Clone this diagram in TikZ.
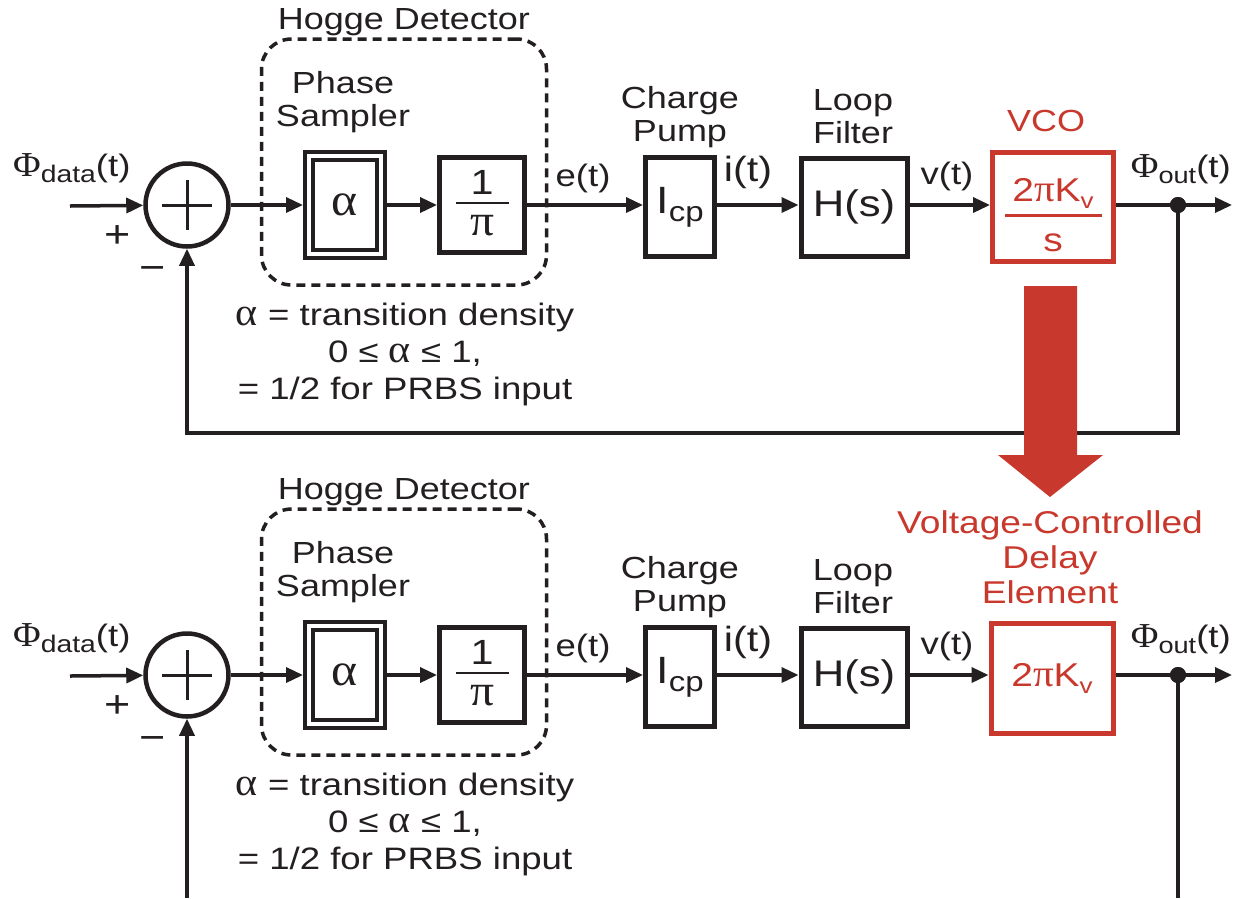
\documentclass[tikz,border=0pt]{standalone}
\usepackage{fontspec}
\setmainfont[FakeStretch=1.18]{Liberation Sans}
\newfontfamily\grk[FakeStretch=1.08]{Liberation Serif}
\usetikzlibrary{arrows.meta}
\definecolor{ink}{RGB}{35,31,32}
\definecolor{vred}{RGB}{201,56,44}
\newcommand\fs[1]{\fontsize{#1}{#1}\selectfont}
\newcommand\subx[3]{\raisebox{#1}{\fs{#2}#3}}
\newcommand\al{{\grk\fontsize{39}{37}\selectfont α}}
% #1 numerator, #2 denominator, #3 bar width, #4 gap above bar, #5 gap below bar, #6 extra bottom space
\newcommand\frc[6]{\vbox{\hbox to #3{\hss#1\hss}\kern#4\hrule height 2.5pt\kern#5\hbox to #3{\hss#2\hss}\kern#6}}
\tikzset{
  wire/.style={line width=3.5pt, draw=ink},
  arr/.style={wire, -{Triangle[length=17pt,width=15pt]}},
  blk/.style={draw=ink, line width=5pt, inner sep=0pt, text=ink},
  dbox/.style={draw=ink, line width=4.2pt, double=white, double distance=4pt, inner sep=0pt,
    minimum width=71.6pt, minimum height=97.6pt, outer sep=6.2pt, text=ink},
  sumc/.style={circle, draw=ink, line width=4.5pt, minimum size=83pt, inner sep=0pt},
  plusbar/.style={line width=3pt, draw=ink},
  hogge/.style={draw=ink, line width=3.5pt, dash pattern=on 9pt off 6pt, rounded corners=30pt,
    minimum width=285pt, minimum height=246pt, inner sep=0pt},
  lbl/.style={font=\fontsize{30.5}{33}\selectfont, text=ink, align=center, inner sep=0pt},
  note/.style={font=\fontsize{31}{37}\selectfont, text=ink, align=center, inner sep=0pt},
  sig/.style={font=\fs{31}, text=ink, inner sep=0pt},
  dot/.style={circle, fill=ink, minimum size=16pt, inner sep=0pt},
}
\newcommand\pllrow[2]{%
  \node[hogge] (#1hg) at (404,{162+#2}) {};
  \node[lbl] (#1hgl) at (404,{22+#2}) {Hogge Detector};
  \node[lbl] (#1psl) at (343,{102+#2}) {Phase\\Sampler};
  \node[lbl] (#1cpl) at (680,{117+#2}) {Charge\\Pump};
  \node[lbl] (#1lfl) at (853,{117+#2}) {Loop\\Filter};
  \coordinate (#1in) at (70,{206+#2});
  \node[sumc] (#1sum) at (187,{205+#2}) {};
  \draw[plusbar] ([xshift=-25pt]#1sum.center) -- ([xshift=25pt]#1sum.center);
  \draw[plusbar] ([yshift=25pt]#1sum.center) -- ([yshift=-25pt]#1sum.center);
  \node[lbl, font=\fs{38}] (#1plus) at (118,{237+#2}) {+};
  \node[lbl, font=\fs{38}] (#1minus) at (153,{273+#2}) {−};
  \node[sig, anchor=base west] (#1phid) at (13,{176+#2}) {{\grk\fs{35}Φ}\subx{-6pt}{24}{data}(t)};
  \node[dbox] (#1alpha) at (345,{205+#2}) {\grk\fs{46}α};
  \node[blk, minimum width=85pt, minimum height=95pt, font=\fs{35}] (#1inv) at (482,{205+#2})
    {\frc{1}{\grk\fs{44}π}{53pt}{7pt}{11pt}{3pt}};
  \node[blk, minimum width=69pt, minimum height=99pt, font=\fs{38}] (#1icp) at (680,{207+#2}) {I\subx{-8pt}{28}{cp}};
  \node[blk, minimum width=106pt, minimum height=98pt, font=\fs{37}] (#1hs) at (854,{207+#2}) {H(s)};
  \node[sig] (#1et) at (583,{178+#2}) {e(t)};
  \node[sig, font=\fs{35}] (#1it) at (748,{172+#2}) {i(t)};
  \node[sig] (#1vt) at (947,{176+#2}) {v(t)};
  \node[note] (#1tx) at (405,{354+#2}) {\al{} = transition density\\0 ≤ \al{} ≤ 1,\\= 1/2 for PRBS input};
  \draw[arr] (#1in) -- (#1sum);
  \draw[arr] (#1sum) -- (#1alpha);
  \draw[arr] (#1alpha) -- (#1inv);
  \draw[arr] (#1inv.east) -- (#1inv.east -| #1icp.west);
  \draw[arr] (#1icp.east |- #1inv.east) -- (#1inv.east -| #1hs.west);
}
\begin{document}
\begin{tikzpicture}[x=1pt, y=-1pt]
\useasboundingbox (0,0) rectangle (1234,898);
\fill[white] (0,0) rectangle (1234,898);
% ---------- top row: VCO ----------
\pllrow{t}{0}
\node[lbl, text=vred] (vcol) at (1046,121) {VCO};
\node[blk, draw=vred, text=vred, minimum width=121pt, minimum height=109pt] (vco) at (1053,207)
  {\frc{\fs{33}2{\grk\fs{38}π}K\subx{-7pt}{22}{v}}{\fs{33}s}{97pt}{6pt}{17pt}{-16pt}};
\node[sig, anchor=base east] (tphio) at (1231,177) {{\grk\fs{35}Φ}\subx{-6pt}{23}{out}(t)};
\draw[arr] (ths.east |- tinv.east) -- (tinv.east -| vco.west);
\coordinate (tout) at (1232,205);
\node[dot] (tdot) at (1178,205) {};
\draw[arr] (vco.east |- tout) -- (tout);
\coordinate (tfbR) at (1178,433);
\coordinate (tfbL) at (187,433);
\draw[arr] (tdot.center) -- (tfbR) -- (tfbL) -- (tsum);
\node[dot] at (tdot) {};
% ---------- red arrow ----------
\fill[vred] (1024,286) -- (1077,286) -- (1077,455) -- (1103,455) -- (1050,497) -- (998,455) -- (1024,455) -- cycle;
% ---------- bottom row: VCDE ----------
\pllrow{b}{470}
\node[lbl, text=vred, font=\fontsize{31.5}{35}\selectfont] (vcdel) at (1050,557) {Voltage-Controlled\\Delay\\Element};
\node[blk, draw=vred, text=vred, minimum width=122pt, minimum height=110pt, font=\fs{33}] (vcde) at (1052,678)
  {2{\grk\fs{38}π}K\subx{-7pt}{22}{v}};
\node[sig, anchor=base east] (bphio) at (1231,647) {{\grk\fs{35}Φ}\subx{-6pt}{23}{out}(t)};
\draw[arr] (bhs.east |- binv.east) -- (binv.east -| vcde.west);
\coordinate (bout) at (1232,675);
\node[dot] (bdot) at (1178,675) {};
\draw[arr] (vcde.east |- bout) -- (bout);
\coordinate (bfbR) at (1178,898);
\coordinate (bfbL) at (187,898);
\draw[wire] (bdot.center) -- (bfbR);
\draw[arr] (bfbL) -- (bsum);
\node[dot] at (bdot) {};
\end{tikzpicture}
\end{document}
